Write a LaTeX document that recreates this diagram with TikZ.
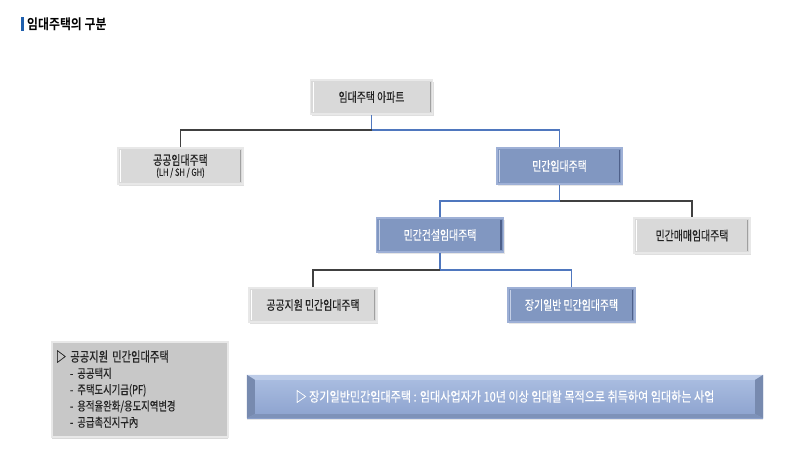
\documentclass[tikz,border=0pt]{standalone}
\usepackage{fontspec}
\setmainfont{Noto Sans CJK KR}
\newfontfamily\nfont{Noto Sans CJK KR}[FakeStretch=0.76,FakeBold=0.3]
\newfontfamily\wfont{Noto Sans CJK KR}[FakeStretch=0.82,FakeBold=0.2]
\newfontfamily\tfont{Noto Sans CJK KR Bold}[FakeStretch=0.85]
\usetikzlibrary{shadows,calc}
\definecolor{boxgray}{RGB}{217,217,217}
\definecolor{grayedge}{RGB}{232,232,232}
\definecolor{graydark}{RGB}{160,160,160}
\definecolor{boxblue}{RGB}{129,151,193}
\definecolor{blueedge}{RGB}{158,176,214}
\definecolor{bluedark}{RGB}{78,96,138}
\definecolor{lineblue}{RGB}{79,119,190}
\definecolor{linedark}{RGB}{64,64,64}
\definecolor{txtdark}{RGB}{35,35,35}
\definecolor{titlebar}{RGB}{31,95,173}
\definecolor{bantop}{RGB}{172,191,226}
\definecolor{banbot}{RGB}{140,162,206}
\tikzset{every node/.style={rectangle,draw=none,inner sep=0pt,font=\nfont\fontsize{13}{14}\selectfont}}
\tikzset{g/.style={fill=boxgray,draw=grayedge,line width=1.5pt,text=txtdark,
  drop shadow={shadow xshift=1pt,shadow yshift=-1.5pt,opacity=0.25},
  path picture={\draw[graydark,line width=1pt] ($(path picture bounding box.north east)+(-2.5,2)$) -- ($(path picture bounding box.south east)+(-2.5,-2)$);
    \draw[white,line width=1pt] ($(path picture bounding box.north west)+(2.5,2)$) -- ($(path picture bounding box.south west)+(2.5,-2)$);}}}
\tikzset{b/.style={fill=boxblue,draw=blueedge,line width=1.5pt,text=white,
  drop shadow={shadow xshift=1pt,shadow yshift=-1.5pt,opacity=0.2},
  path picture={\draw[bluedark,line width=1.2pt] ($(path picture bounding box.north east)+(-2.5,2)$) -- ($(path picture bounding box.south east)+(-2.5,-2)$);
    \draw[blueedge!60!white,line width=1pt] ($(path picture bounding box.north west)+(2.5,2)$) -- ($(path picture bounding box.south west)+(2.5,-2)$);}}}
\tikzset{bl/.style={draw=lineblue,line width=1.3pt}}
\tikzset{dk/.style={draw=linedark,line width=1.3pt}}

\begin{document}
\begin{tikzpicture}[x=1pt,y=-1pt]
  \useasboundingbox (0,0) rectangle (800,474);
  % title
  \fill[titlebar] (21,17) rectangle (24,31);
  \node[anchor=west,font=\tfont\fontsize{14}{15}\selectfont] (title) at (27,24) {임대주택의 구분};
  % tree
  \node[g,minimum width=122pt,minimum height=34pt] (top) at (371.5,97) {임대주택 아파트};
  \node[g,minimum width=125pt,minimum height=36pt,align=center] (pub) at (180.5,166) {공공임대주택\\[-3pt]{\fontsize{10}{11}\selectfont (LH / SH / GH)}};
  \node[b,minimum width=125pt,minimum height=36pt] (priv) at (559.5,166) {민간임대주택};
  \node[b,minimum width=127pt,minimum height=34pt] (cons) at (440,235) {민간건설임대주택};
  \node[g,minimum width=116pt,minimum height=35pt] (sale) at (692,235.5) {민간매매임대주택};
  \node[g,minimum width=128pt,minimum height=34pt] (supp) at (313,305) {공공지원 민간임대주택};
  \node[b,minimum width=127pt,minimum height=34pt] (long) at (571.5,305) {장기일반 민간임대주택};
  \coordinate (j1) at (371.5,130);
  \coordinate (j2) at (559.5,201);
  \coordinate (j3) at (440,270);
    \draw[bl] (top) -- (j1) -| (priv);
    \draw[dk] (j1) -| (pub);
    \draw[bl] (priv) -- (j2) -| (cons);
    \draw[dk] (j2) -| (sale);
    \draw[bl] (cons) -- (j3) -| (long);
    \draw[dk] (j3) -| (supp);
  % list box
  \node[fill=boxgray!92!black,draw=grayedge,line width=2pt,minimum width=176pt,minimum height=95pt,
    text width=168pt,align=left,text=txtdark,font=\nfont\fontsize{12.3}{16.3}\selectfont,
    drop shadow={shadow xshift=0pt,shadow yshift=-2pt,opacity=0.3}] (list) at (140,389)
    {{\fontsize{13.5}{16.3}\selectfont ▷ 공공지원 민간임대주택}\\
     \hspace*{14pt}- 공공택지\\
     \hspace*{14pt}- 주택도시기금(PF)\\
     \hspace*{14pt}- 용적율완화/용도지역변경\\
     \hspace*{14pt}- 공급촉진지구內};
  % banner
  \node[top color=bantop,bottom color=banbot,minimum width=516pt,minimum height=43pt,text=white,
    font=\wfont\fontsize{13.5}{15}\selectfont,drop shadow={shadow xshift=0pt,shadow yshift=-2pt,opacity=0.2}] (note) at (505,396.5)
    {▷ 장기일반민간임대주택 : 임대사업자가 10년 이상 임대할 목적으로 취득하여 임대하는 사업};
  \fill[bantop!80!white] (note.north west) -- (note.north east) -- ($(note.north east)+(-8,5)$) -- ($(note.north west)+(8,5)$) -- cycle;
  \fill[banbot!85!black] (note.north west) -- ($(note.north west)+(8,5)$) -- ($(note.south west)+(8,-4)$) -- (note.south west) -- cycle;
  \fill[banbot!85!black] (note.north east) -- ($(note.north east)+(-8,5)$) -- ($(note.south east)+(-8,-4)$) -- (note.south east) -- cycle;
  \fill[banbot!90!black] (note.south west) -- ($(note.south west)+(8,-4)$) -- ($(note.south east)+(-8,-4)$) -- (note.south east) -- cycle;
\end{tikzpicture}
\end{document}
